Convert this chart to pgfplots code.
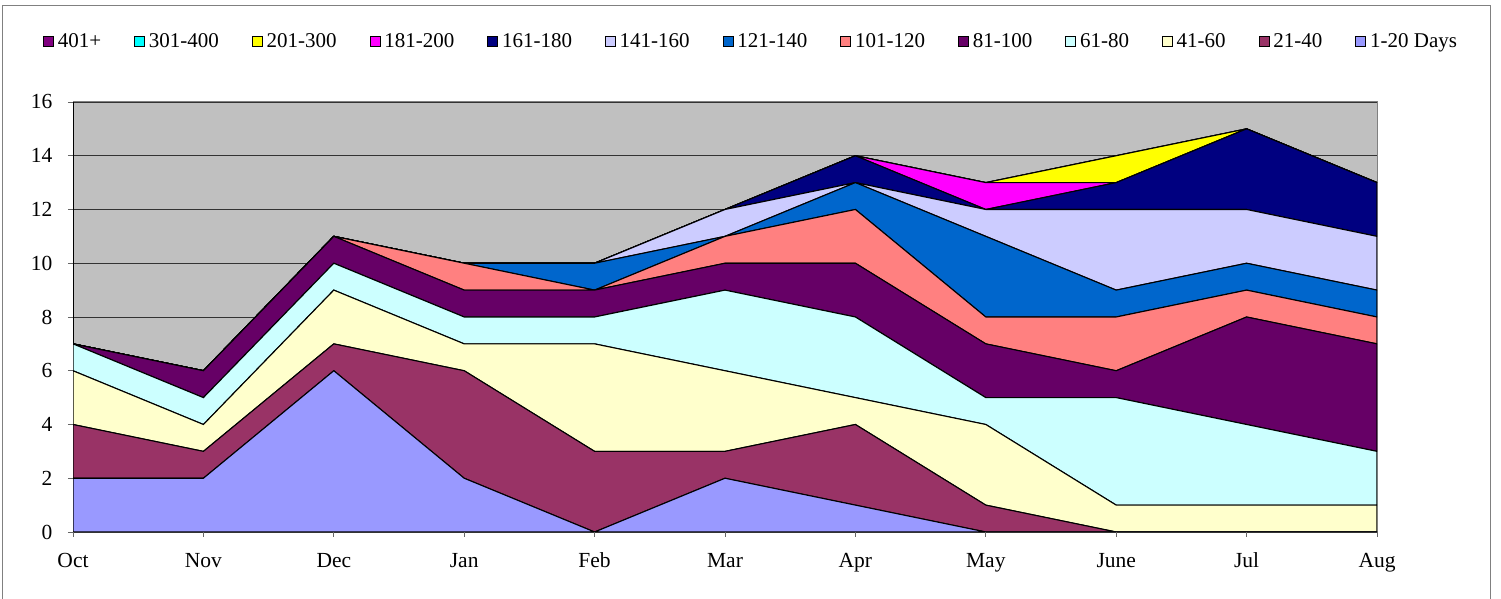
\documentclass[border=0pt]{standalone}
\usepackage{pgfplots}
\usepackage{pgfplotstable}
\pgfplotsset{compat=1.18}
\usepackage{fontspec}
\setmainfont{Liberation Serif}
\definecolor{cA}{HTML}{9999FF}
\definecolor{cB}{HTML}{993366}
\definecolor{cC}{HTML}{FFFFCC}
\definecolor{cD}{HTML}{CCFFFF}
\definecolor{cE}{HTML}{660066}
\definecolor{cF}{HTML}{FF8080}
\definecolor{cG}{HTML}{0066CC}
\definecolor{cH}{HTML}{CCCCFF}
\definecolor{cI}{HTML}{000080}
\definecolor{cJ}{HTML}{FF00FF}
\definecolor{cK}{HTML}{FFFF00}
\definecolor{cL}{HTML}{00FFFF}
\definecolor{cM}{HTML}{800080}
\definecolor{cbg}{HTML}{C0C0C0}
\pgfplotstableread{
m  s1 s2 s3 s4 s5 s6 s7 s8 s9 s10 s11 s12 s13
0  2  2  2  1  0  0  0  0  0  0   0   0   0
1  2  1  1  1  1  0  0  0  0  0   0   0   0
2  6  1  2  1  1  0  0  0  0  0   0   0   0
3  2  4  1  1  1  1  0  0  0  0   0   0   0
4  0  3  4  1  1  0  1  0  0  0   0   0   0
5  2  1  3  3  1  1  0  1  0  0   0   0   0
6  1  3  1  3  2  2  1  0  1  0   0   0   0
7  0  1  3  1  2  1  3  1  0  1   0   0   0
8  0  0  1  4  1  2  1  3  1  0   1   0   0
9  0  0  1  3  4  1  1  2  3  0   0   0   0
10 0  0  1  2  4  1  1  2  2  0   0   0   0
}\datatable
\begin{document}
\begin{tikzpicture}[x=1bp,y=1bp]
\useasboundingbox (0,0) rectangle (1501,599);
\draw[black!50, line width=1bp] (2,-5) rectangle (1490,593);
\begin{axis}[
  at={(73bp,67bp)}, anchor=south west,
  scale only axis, width=1304bp, height=430bp,
  xmin=0, xmax=10, ymin=0, ymax=16,
  stack plots=y,
  axis background/.style={fill=cbg},
  axis line style={draw=black!50, line width=1bp},
  ymajorgrids, grid style={black!80, line width=0.8bp},
  ytick={0,2,...,16},
  xtick={0,...,10},
  xticklabels={Oct,Nov,Dec,Jan,Feb,Mar,Apr,May,June,Jul,Aug},
  tick align=outside, major tick length=5bp,
  tick style={black!60, line width=0.8bp},
  xtick pos=bottom, ytick pos=left,
  ticklabel style={font=\fontsize{21.5bp}{25bp}\selectfont},
  /pgf/number format/assume math mode=true,
  yticklabel style={xshift=-12bp},
  xticklabel style={yshift=-12bp, text height=15bp, text depth=5bp},
  legend columns=13, reverse legend,
  legend style={draw=none, fill=none,
    at={(axis description cs:-0.023,1.142)}, anchor=west,
    font=\fontsize{21bp}{25bp}\selectfont, inner sep=0pt,
    nodes={inner sep=0pt},
    /tikz/every odd column/.append style={column sep=4bp},
    /tikz/every even column/.append style={column sep=33bp}},
  legend image code/.code={\draw[#1,draw=black,line width=0.7bp] (0bp,-5bp) rectangle (10bp,5bp);},
]
\addplot[fill=cA, draw=black, line width=1.1bp] table[x=m,y=s1]{\datatable} \closedcycle;
\addlegendentry{1-20 Days}
\addplot[fill=cB, draw=black, line width=1.1bp] table[x=m,y=s2]{\datatable} \closedcycle;
\addlegendentry{21-40}
\addplot[fill=cC, draw=black, line width=1.1bp] table[x=m,y=s3]{\datatable} \closedcycle;
\addlegendentry{41-60}
\addplot[fill=cD, draw=black, line width=1.1bp] table[x=m,y=s4]{\datatable} \closedcycle;
\addlegendentry{61-80}
\addplot[fill=cE, draw=black, line width=1.1bp] table[x=m,y=s5]{\datatable} \closedcycle;
\addlegendentry{81-100}
\addplot[fill=cF, draw=black, line width=1.1bp] table[x=m,y=s6]{\datatable} \closedcycle;
\addlegendentry{101-120}
\addplot[fill=cG, draw=black, line width=1.1bp] table[x=m,y=s7]{\datatable} \closedcycle;
\addlegendentry{121-140}
\addplot[fill=cH, draw=black, line width=1.1bp] table[x=m,y=s8]{\datatable} \closedcycle;
\addlegendentry{141-160}
\addplot[fill=cI, draw=black, line width=1.1bp] table[x=m,y=s9]{\datatable} \closedcycle;
\addlegendentry{161-180}
\addplot[fill=cJ, draw=black, line width=1.1bp] table[x=m,y=s10]{\datatable} \closedcycle;
\addlegendentry{181-200}
\addplot[fill=cK, draw=black, line width=1.1bp] table[x=m,y=s11]{\datatable} \closedcycle;
\addlegendentry{201-300}
\addplot[fill=cL, draw=black, line width=1.1bp] table[x=m,y=s12]{\datatable} \closedcycle;
\addlegendentry{301-400}
\addplot[fill=cM, draw=black, line width=1.1bp] table[x=m,y=s13]{\datatable} \closedcycle;
\addlegendentry{401+}
\draw[black, line width=1.5bp] (rel axis cs:0,1) -- (rel axis cs:0,0) -- (rel axis cs:1,0);
\end{axis}
\end{tikzpicture}
\end{document}
